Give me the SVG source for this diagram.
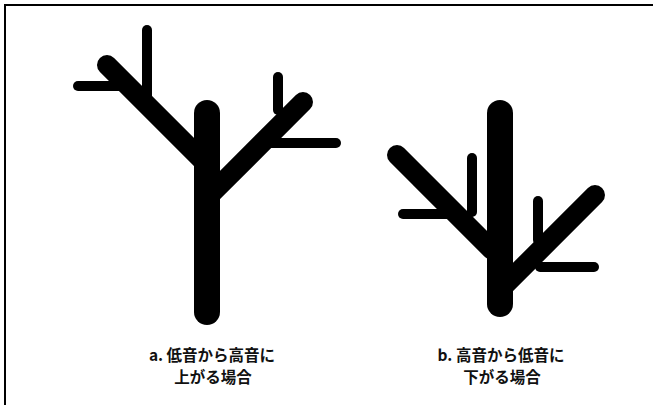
<svg xmlns="http://www.w3.org/2000/svg" width="653" height="405" viewBox="0 0 653 405">
  <style>
    .trunk { stroke: #000; stroke-width: 26; stroke-linecap: round; fill: none; }
    .branch { stroke: #000; stroke-width: 20; stroke-linecap: round; fill: none; }
    .twig { stroke: #000; stroke-width: 10; stroke-linecap: round; fill: none; }
    .label { font-family: "Noto Sans CJK JP", "Noto Sans", sans-serif; font-size: 15.5px; font-weight: 700; fill: #111; text-anchor: middle; }
  </style>
  <rect width="653" height="405" fill="#fff"/>
  <!-- frame: top and left edges -->
  <path d="M5 405 V5 H653" fill="none" stroke="#000" stroke-width="2"/>

  <!-- tree a: branches rising upward -->
  <g id="tree-a">
    <line class="twig" x1="78" y1="86" x2="125" y2="86"/>
    <line class="twig" x1="147" y1="30" x2="147" y2="98"/>
    <line class="twig" x1="278" y1="77" x2="278" y2="110"/>
    <line class="twig" x1="262" y1="143" x2="336" y2="143"/>
    <line class="branch" x1="107" y1="65" x2="204" y2="162"/>
    <line class="branch" x1="303" y1="102" x2="212" y2="193"/>
    <line class="trunk" x1="207" y1="113" x2="207" y2="312"/>
  </g>

  <!-- tree b: branches falling downward -->
  <g id="tree-b">
    <line class="twig" x1="403" y1="214" x2="452" y2="214"/>
    <line class="twig" x1="472" y1="158" x2="472" y2="212"/>
    <line class="twig" x1="538" y1="201" x2="538" y2="240"/>
    <line class="twig" x1="540" y1="267" x2="594" y2="267"/>
    <line class="branch" x1="397" y1="155" x2="492" y2="250"/>
    <line class="branch" x1="595" y1="195" x2="505" y2="285"/>
    <line class="trunk" x1="500" y1="113" x2="500" y2="304"/>
  </g>

  <g id="label-a">
    <text class="label" x="212" y="361">a. 低音から高音に</text>
    <text class="label" x="213" y="383">上がる場合</text>
  </g>
  <g id="label-b">
    <text class="label" x="501" y="361">b. 高音から低音に</text>
    <text class="label" x="502" y="383">下がる場合</text>
  </g>
</svg>
